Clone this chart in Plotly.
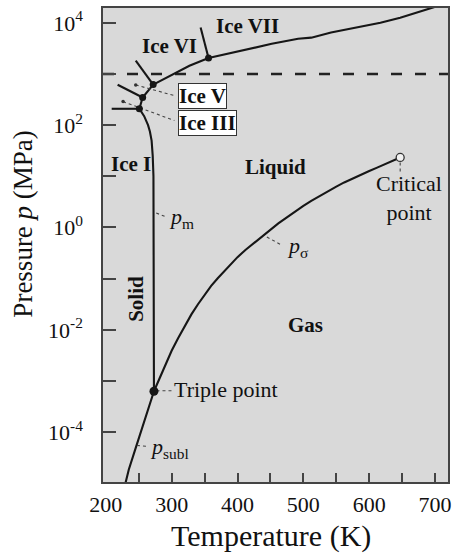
import plotly.graph_objects as go

FONT = "Liberation Serif"
INK = "#161616"

# ---------------- data (T in K, p in MPa) ----------------
subl_T = [227, 235, 245, 255, 265, 273.16]
subl_p = [7.1e-6, 1.86e-5, 4.7e-5, 1.15e-4, 2.95e-4, 6.3e-4]

vap_T = [273.16, 280, 290, 300, 310, 320, 330, 340, 350, 360, 370, 380, 390, 400, 412, 425,
         437, 450, 462, 475, 487, 500, 512, 525, 537, 550, 562, 575, 587, 600, 612, 625, 636, 647]
vap_p = [6.3e-4, 1.02e-3, 2.04e-3, 3.9e-3, 6.9e-3, 0.012, 0.020, 0.0316, 0.049, 0.072, 0.102,
         0.141, 0.195, 0.263, 0.363, 0.50, 0.676, 0.912, 1.20, 1.58, 2.04, 2.63, 3.31, 4.17,
         5.13, 6.31, 7.59, 9.12, 10.8, 12.7, 14.8, 17.4, 20.0, 23.4]

meltI_T = [273.16, 273.15, 272.9, 272.4, 271.3, 269.6, 267.0, 264.2, 258.3, 251.0]
meltI_p = [6.3e-4, 0.1, 3.0, 10, 25, 50, 75, 100, 150, 209]

meltIII_T = [251.0, 256.0]
meltIII_p = [209, 347]

meltV_T = [256.0, 263.0, 272.0]
meltV_p = [347, 450, 620]

meltVI_T = [272.0, 302, 327, 356]
meltVI_p = [620, 1000, 1445, 2050]

meltVII_T = [356, 402, 452, 492, 512, 542, 583, 617, 647, 673, 698, 705]
meltVII_p = [2050, 2820, 3890, 4900, 5130, 6460, 8320, 10000, 12600, 15800, 20000, 21500]

# solid-solid boundaries
b_I_III_T = [209, 251.0]
b_I_III_p = [209, 209]
b_III_V_T = [218, 256.0]
b_III_V_p = [615, 347]
b_V_VI_T = [245.5, 272.0]
b_V_VI_p = [1820, 620]
b_VI_VII_T = [344, 356]
b_VI_VII_p = [8130, 2050]

triple_T = 273.16
triple_p = 6.3e-4
ice_triple_T = [251.0, 256.0, 272.0, 356]
ice_triple_p = [209, 347, 620, 2050]
crit_T = 647
crit_p = 23.4

dashed_p = 1000

x_ticks = [200, 300, 400, 500, 600, 700]
x_minor = [250, 300, 350, 400, 450, 500, 550, 600, 650, 700]
y_ticks = [1e-4, 1e-2, 1, 1e2, 1e4]
y_ticktext = ["10<sup>-4</sup>", "10<sup>-2</sup>", "10<sup>0</sup>",
              "10<sup>2</sup>", "10<sup>4</sup>"]
y_minor = [1e-3, 1e-1, 10, 1e3]

X_RANGE = [195.8, 719.6]
Y_RANGE = [-4.975, 4.29]

fig = go.Figure()


def line(x, y, width=2.1, color=INK, dash=None, xaxis="x"):
    fig.add_trace(go.Scatter(x=x, y=y, mode="lines", xaxis=xaxis,
                             line=dict(color=color, width=width, dash=dash),
                             hoverinfo="skip", showlegend=False))


# dashed line at 1 GPa
line(X_RANGE, [dashed_p, dashed_p], width=2.5, color="#222", dash="11px,13px")

# phase curves
line(subl_T, subl_p)
line(vap_T, vap_p)
line(meltI_T, meltI_p)
line(meltIII_T, meltIII_p)
line(meltV_T, meltV_p)
line(meltVI_T, meltVI_p)
line(meltVII_T, meltVII_p)
line(b_I_III_T, b_I_III_p)
line(b_III_V_T, b_III_V_p)
line(b_V_VI_T, b_V_VI_p)
line(b_VI_VII_T, b_VI_VII_p)

# leader lines (dotted): positions given as (T, log10 p)
leaders = [
    ((276.6, 0.283), (291.7, 0.205)),      # p_m
    ((444.6, -0.185), (467.2, -0.347)),    # p_sigma
    ((247.4, -4.26), (265.5, -4.28)),      # p_subl
    ((245.5, 2.786), (304.2, 2.577)),      # Ice V
    ((226.3, 2.46), (304.2, 2.09)),        # Ice III
    ((277.0, -3.19), (301.1, -3.19)),      # triple point
    ((647.0, 1.27), (647.0, 1.06)),        # critical point
]
for (a, b) in leaders:
    line([a[0], b[0]], [10 ** a[1], 10 ** b[1]], width=1.1, color="#444", dash="dot")

# small dots at leader starts for Ice V / Ice III
fig.add_trace(go.Scatter(x=[245.5, 226.3], y=[10 ** 2.786, 10 ** 2.46], mode="markers",
                         marker=dict(size=3.5, color="#333"), hoverinfo="skip",
                         showlegend=False))

# points
fig.add_trace(go.Scatter(x=ice_triple_T, y=ice_triple_p, mode="markers",
                         marker=dict(size=7, color=INK), hoverinfo="skip", showlegend=False))
fig.add_trace(go.Scatter(x=[triple_T], y=[triple_p], mode="markers",
                         marker=dict(size=9, color=INK), hoverinfo="skip", showlegend=False))
fig.add_trace(go.Scatter(x=[crit_T], y=[crit_p], mode="markers",
                         marker=dict(size=8, color="#f2f2f2", line=dict(color="#333", width=1.3)),
                         hoverinfo="skip", showlegend=False))

# invisible trace for the tick-only overlay axis
fig.add_trace(go.Scatter(x=[X_RANGE[0]], y=[1], xaxis="x2", mode="markers",
                         marker=dict(opacity=0), hoverinfo="skip", showlegend=False))

ann = []


def text(t, x, ly, size=21, xanchor="center", **kw):
    d = dict(text=t, x=x, y=ly, xref="x", yref="y", showarrow=False,
             xanchor=xanchor, yanchor="middle",
             font=dict(family=FONT, size=size, color="#111"))
    d.update(kw)
    ann.append(d)


text("<b>Ice VI</b>", 296.2, 3.55)
text("<b>Ice VII</b>", 415.4, 3.94)
text("<b>Ice I</b>", 237.9, 1.245)
text("<b>Liquid</b>", 457.7, 1.19)
text("<b>Gas</b>", 502.8, -1.91)
text("<b>Solid</b>", 245.5, -1.40, textangle=-90)
text("<b>Ice V</b>", 347.0, 2.567, bgcolor="white", bordercolor="#333",
     borderwidth=1, borderpad=0)
text("<b>Ice III</b>", 354.9, 2.05, bgcolor="white", bordercolor="#333",
     borderwidth=1, borderpad=0)
text("Critical<br>point", 660.9, 0.569, size=22)
text("Triple point", 301.3, -3.17, size=22, xanchor="left")
text("<i>p</i><sub>m</sub>", 292.5, 0.19, size=22, xanchor="left")
text("<i>p</i><sub>σ</sub>", 471.6, -0.38, size=22, xanchor="left")
text("<i>p</i><sub>subl</sub>", 264.5, -4.32, size=22, xanchor="left")

# axis titles
ann.append(dict(text="Pressure <i>p</i> (MPa)", x=-0.232, y=0.545, xref="paper", yref="paper",
                showarrow=False, textangle=-90, xanchor="center", yanchor="middle",
                font=dict(family=FONT, size=27, color="#111")))
ann.append(dict(text="Temperature (K)", x=0.4856, y=-0.114, xref="paper", yref="paper",
                showarrow=False, xanchor="center", yanchor="middle",
                font=dict(family=FONT, size=30, color="#111")))

fig.update_layout(
    width=457, height=557,
    margin=dict(l=103, r=6, t=7, b=75),
    paper_bgcolor="white",
    plot_bgcolor="#d9d9d9",
    showlegend=False,
    annotations=ann,
    xaxis=dict(range=X_RANGE, tickvals=x_ticks, ticks="", showgrid=False, zeroline=False,
               showline=True, mirror=True, linecolor="#444", linewidth=1.5,
               tickfont=dict(family=FONT, size=22, color="#111"), ticklabelstandoff=2),
    xaxis2=dict(range=X_RANGE, overlaying="x", matches="x", anchor="y", side="bottom",
                tickvals=x_minor, ticks="inside", ticklen=9, tickwidth=1.5, tickcolor="#444",
                showticklabels=False, showgrid=False, zeroline=False, showline=False),
    yaxis=dict(type="log", range=Y_RANGE, tickvals=y_ticks, ticktext=y_ticktext,
               ticks="inside", ticklen=13, tickwidth=1.5, tickcolor="#444",
               showgrid=False, zeroline=False, showline=True, mirror=True,
               linecolor="#444", linewidth=1.5,
               minor=dict(tickvals=y_minor, ticks="inside", ticklen=13, tickwidth=1.5,
                          tickcolor="#444", showgrid=False),
               tickfont=dict(family=FONT, size=22, color="#111"), ticklabelstandoff=14),
)

fig.write_html("out.html")
